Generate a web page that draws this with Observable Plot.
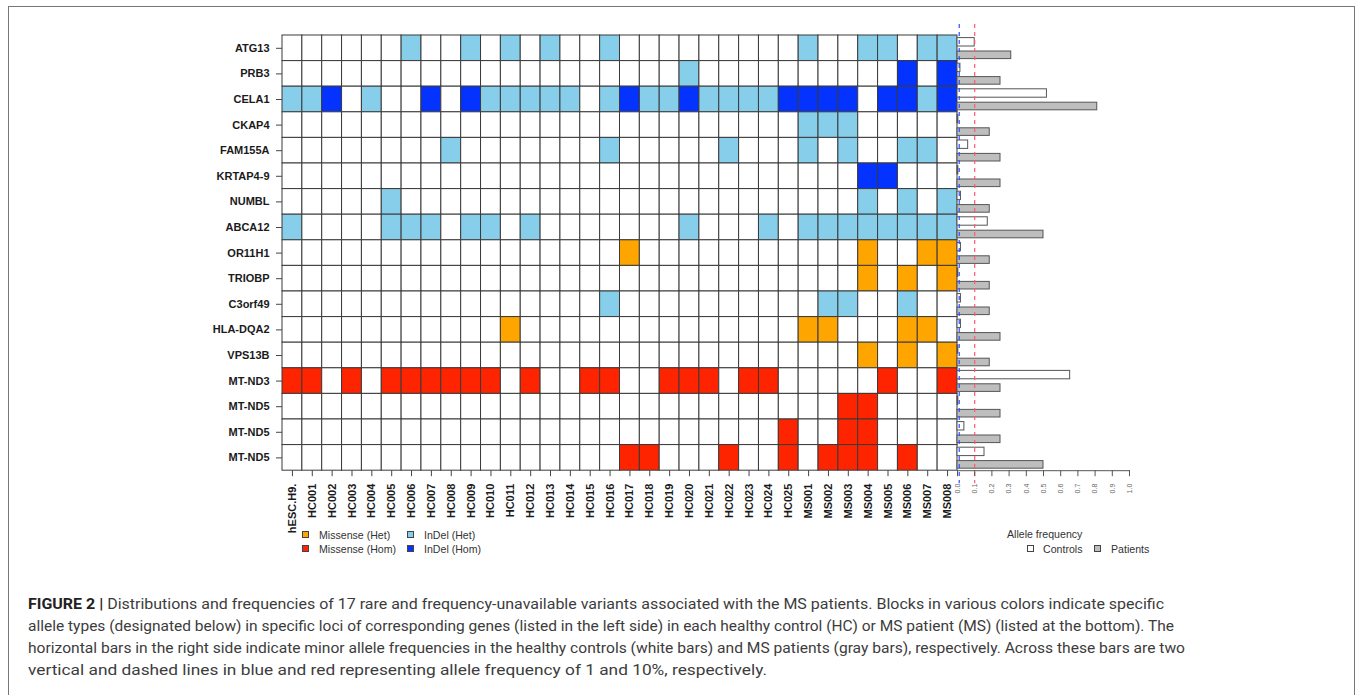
<!DOCTYPE html>
<html>
<head>
<meta charset="utf-8">
<script src="https://cdn.jsdelivr.net/npm/d3@7"></script>
<script src="https://cdn.jsdelivr.net/npm/@observablehq/plot@0.6"></script>
<style>
  body { margin: 0; background: #fff; }
  #fig { position: relative; width: 1357px; height: 695px; overflow: hidden; font-family: "Liberation Sans", Arial, sans-serif; }
  .box { position: absolute; left: 8px; top: 6px; width: 1347px; height: 760px; border: 1px solid #777; box-sizing: border-box; }
  .abs { position: absolute; }
  .lg { position: absolute; font-size: 10.6px; color: #333; white-space: nowrap; line-height: 12px; }
  .sw { position: absolute; width: 7px; height: 7px; border: 1px solid #444; box-sizing: border-box; }
  .cap { position: absolute; left: 28px; font-family: Roboto, "Liberation Sans", sans-serif; font-size: 14.5px; color: #3c3c3c; white-space: nowrap; transform-origin: 0 50%; line-height: 18px; }
  .cap b { color: #222; }
</style>
</head>
<body>
<div id="fig">
  <div class="box"></div>
  <div id="heat" class="abs" style="left:0;top:0"></div>
  <div id="bars" class="abs" style="left:900px;top:0"></div>
  <div id="legend1"></div>
  <div id="legend2"></div>
  <div id="caption"></div>
</div>
<script>
// ---------- data ----------
const samples = ["hESC.H9.",
  "HC001","HC002","HC003","HC004","HC005","HC006","HC007","HC008","HC009","HC010",
  "HC011","HC012","HC013","HC014","HC015","HC016","HC017","HC018","HC019","HC020",
  "HC021","HC022","HC023","HC024","HC025",
  "MS001","MS002","MS003","MS004","MS005","MS006","MS007","MS008"];

const genes = ["ATG13","PRB3","CELA1","CKAP4","FAM155A","KRTAP4-9","NUMBL","ABCA12",
  "OR11H1","TRIOBP","C3orf49","HLA-DQA2","VPS13B","MT-ND3","MT-ND5","MT-ND5","MT-ND5"];

// genotype per gene: hESC | HC001..HC025 | MS001..MS008
// . = none, o = Missense (Het), r = Missense (Hom), l = InDel (Het), b = InDel (Hom)
const genotypes = [
  ". .....l..l.l.l..l......... l..ll.ll",
  ". ...................l..... .....b.b",
  "l lb.l..b.blllll.lbllbllllb bbb.bblb",
  ". ......................... lll.....",
  ". .......l.......l.....l... l.l..ll.",
  ". ......................... ...bb...",
  ". ....l.................... ...l.l.l",
  "l ....lll.ll.l.......l...l. llllllll",
  ". ................o........ ...o..oo",
  ". ......................... ...o.o.o",
  ". ...............l......... .ll..l..",
  ". ..........o.............. oo...oo.",
  ". ......................... ...o.o.o",
  "r r.r.rrrrrr.r..rr..rrr.rr. ....r..r",
  ". ......................... ..rr....",
  ". ........................r ..rr....",
  ". ................rr...r..r .rrr.r.."
];

const typeCodes  = [".", "o", "r", "l", "b"];
const typeNames  = ["None", "Missense (Het)", "Missense (Hom)", "InDel (Het)", "InDel (Hom)"];
const typeColors = ["#ffffff", "#ffa500", "#ff2400", "#87ceeb", "#0432ff"];

// allele frequencies (per gene row)
const controlsFreq = [0.10, 0.017, 0.52, 0.005, 0.062, 0.005, 0.02, 0.176, 0.02, 0.005, 0.02, 0.02, 0.005, 0.655, 0.005, 0.04, 0.157];
const patientsFreq = [0.3125, 0.25, 0.8125, 0.1875, 0.25, 0.25, 0.1875, 0.5, 0.1875, 0.1875, 0.1875, 0.25, 0.1875, 0.25, 0.25, 0.25, 0.5];
const freqTicks = [0, 0.1, 0.2, 0.3, 0.4, 0.5, 0.6, 0.7, 0.8, 0.9, 1.0];
const refLines = [{v: 0.01, color: "#2f4dff"}, {v: 0.10, color: "#ff5a6a"}];

const captionLines = [
  ["FIGURE 2 |", " Distributions and frequencies of 17 rare and frequency-unavailable variants associated with the MS patients. Blocks in various colors indicate specific"],
  ["", "allele types (designated below) in specific loci of corresponding genes (listed in the left side) in each healthy control (HC) or MS patient (MS) (listed at the bottom). The"],
  ["", "horizontal bars in the right side indicate minor allele frequencies in the healthy controls (white bars) and MS patients (gray bars), respectively. Across these bars are two"],
  ["", "vertical and dashed lines in blue and red representing allele frequency of 1 and 10%, respectively."]
];

// ---------- build tables ----------
const cells = [];
genotypes.forEach((g, r) => {
  const codes = g.replace(/ /g, "");
  codes.split("").forEach((c, i) => cells.push({sample: samples[i], row: r, type: c}));
});
const barKeys = [];
genes.forEach((g, r) => { barKeys.push(r + "c", r + "p"); });
const ctrlData = controlsFreq.map((v, r) => ({key: r + "c", value: v}));
const patData = patientsFreq.map((v, r) => ({key: r + "p", value: v}));

const MT = 35, MB = 70, PH = 435.2;
const fontStyle = {fontFamily: '"Liberation Sans", Arial, sans-serif', fontSize: "11px", color: "#1a1a1a", background: "transparent", overflow: "visible"};

// ---------- heatmap ----------
const heat = Plot.plot({
  width: 957, height: MT + PH + MB,
  marginLeft: 282, marginRight: 0, marginTop: MT, marginBottom: MB,
  style: fontStyle,
  x: {type: "band", domain: samples, padding: 0, round: false, label: null},
  y: {type: "band", domain: d3.range(genes.length), padding: 0, round: false, label: null},
  color: {domain: typeCodes, range: typeColors},
  marks: [
    Plot.cell(cells, {x: "sample", y: "row", fill: "type", stroke: "#3a3a3a", strokeWidth: 1}),
    Plot.axisX({tickRotate: -90, tickSize: 6, tickPadding: 7, fontWeight: "bold", fontSize: 11, label: null, stroke: "#444"}),
    Plot.axisY({tickFormat: i => genes[i], tickSize: 6, tickPadding: 7, fontWeight: "bold", fontSize: 11, label: null, stroke: "#444"})
  ]
});
document.getElementById("heat").appendChild(heat);

// ---------- allele frequency bars ----------
const bars = Plot.plot({
  width: 300, height: MT + PH + MB,
  marginLeft: 57, marginRight: 71, marginTop: MT, marginBottom: MB,
  style: fontStyle,
  x: {domain: [0, 1], label: null},
  y: {type: "band", domain: barKeys, padding: 0, round: false, axis: null},
  marks: [
    Plot.barX(ctrlData, {x: "value", y: "key", fill: "white", stroke: "#555", strokeWidth: 1, insetTop: 2.6, insetBottom: 1.8}),
    Plot.barX(patData, {x: "value", y: "key", fill: "#bebebe", stroke: "#555", strokeWidth: 1, insetTop: 3.2, insetBottom: 2}),
    ...refLines.map(l => Plot.ruleX([l.v], {stroke: l.color, strokeWidth: 1.2, strokeDasharray: "4,4", insetTop: -11, insetBottom: -13})),
    Plot.frame({anchor: "bottom", stroke: "#555"}),
    Plot.axisX({ticks: freqTicks, tickFormat: d => d.toFixed(1), tickRotate: -90, tickSize: 6, tickPadding: 7, fontSize: 7, label: null, stroke: "#555", fill: "#666"})
  ]
});
document.getElementById("bars").appendChild(bars);

// ---------- legends ----------
const L1 = document.getElementById("legend1");
const legItems = [
  {code: "o", x: 302, y: 535}, {code: "l", x: 407, y: 535},
  {code: "r", x: 302, y: 549}, {code: "b", x: 407, y: 549}
];
legItems.forEach(it => {
  const idx = typeCodes.indexOf(it.code);
  const sw = document.createElement("div");
  sw.className = "sw";
  sw.style.left = it.x + "px"; sw.style.top = (it.y - 4) + "px";
  sw.style.background = typeColors[idx];
  L1.appendChild(sw);
  const t = document.createElement("div");
  t.className = "lg";
  t.style.left = (it.x + 17) + "px"; t.style.top = (it.y - 6) + "px";
  t.textContent = typeNames[idx];
  L1.appendChild(t);
});
const L2 = document.getElementById("legend2");
L2.innerHTML = `
  <div class="lg" style="left:1007px;top:528px">Allele frequency</div>
  <div class="sw" style="left:1027px;top:545px;background:#fff"></div>
  <div class="lg" style="left:1043px;top:543px">Controls</div>
  <div class="sw" style="left:1094px;top:545px;background:#bebebe"></div>
  <div class="lg" style="left:1111px;top:543px">Patients</div>`;

// ---------- caption ----------
const C = document.getElementById("caption");
const capTops = [596, 618, 640, 662];
const capRight = [1164, 1174, 1185, 767];
captionLines.forEach((ln, i) => {
  const d = document.createElement("div");
  d.className = "cap";
  d.style.top = capTops[i] + "px";
  d.innerHTML = (ln[0] ? "<b>" + ln[0] + "</b>" : "") + ln[1];
  C.appendChild(d);
  const w = d.getBoundingClientRect().width;
  const target = capRight[i] - 28;
  d.style.transform = `scaleX(${target / w})`;
});
</script>
</body>
</html>
